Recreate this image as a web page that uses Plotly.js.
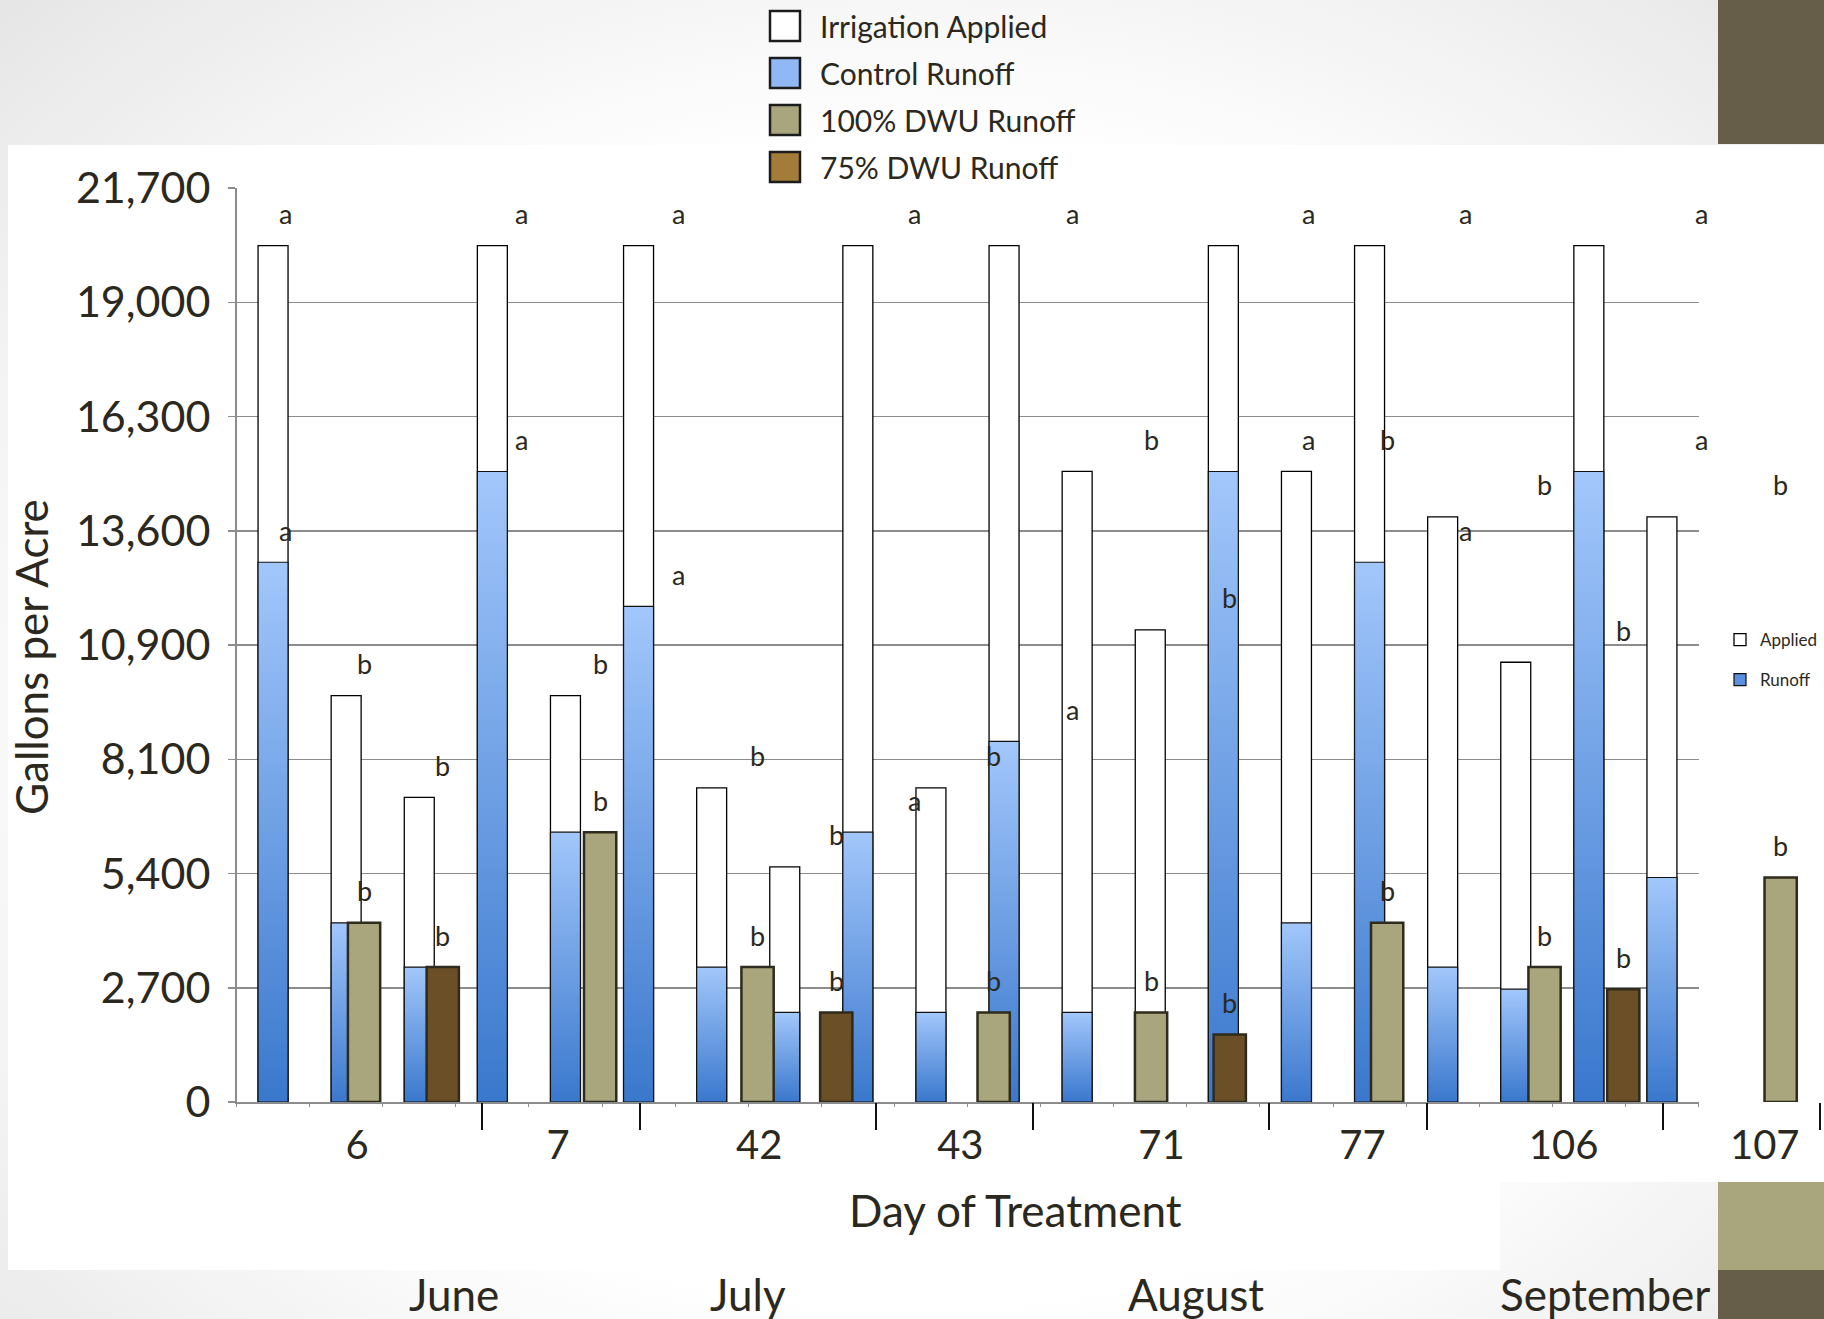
<!DOCTYPE html>
<html>
<head>
<meta charset="utf-8">
<script src="https://cdn.plot.ly/plotly-3.0.1.min.js"></script>
<style>
  html, body { margin: 0; padding: 0; background: #ffffff; }
  #slide {
    width: 1824px; height: 1319px;
    background: radial-gradient(ellipse 75% 80% at 50% 55%, #ffffff 55%, #e3e3e3 100%);
  }
</style>
</head>
<body>
<svg width="0" height="0" style="position:absolute">
  <defs>
    <linearGradient id="runoffFill" x1="0" y1="0" x2="0" y2="1">
      <stop offset="0" stop-color="#a2c7fb"/>
      <stop offset="1" stop-color="#3a78cd"/>
    </linearGradient>
  </defs>
</svg>
<div id="slide"></div>
<script>
// ---- data (gallons per acre) ----
const days = ['6', '7', '42', '43', '71', '77', '106', '107'];
const months = ['June', 'July', 'August', 'September'];

// one entry per plot (slot), in display order
const slotDay = ['6', '6', '6', '7', '7', '42', '42', '42', '43', '43',
                 '71', '71', '71', '77', '77', '106', '106', '106', '107', '107'];
const slotTreatment = ['Control', '100% DWU', '75% DWU', 'Control', '100% DWU',
                       'Control', '100% DWU', '75% DWU', 'Control', '100% DWU',
                       'Control', '100% DWU', '75% DWU', 'Control', '100% DWU',
                       'Control', '100% DWU', '75% DWU', 'Control', '100% DWU'];
const irrigationApplied = [20330, 9650, 7230, 20330, 9650, 20330, 7460, 5580, 20330, 7460,
                           20330, 14970, 11210, 20330, 14970, 20330, 13890, 10440, 20330, 13890];
const runoff = [12815, 4253, 3204, 14969, 6407, 11765, 3204, 2127, 6407, 2127,
                8562, 2127, 1602, 14969, 4253, 12815, 3204, 2679, 14969, 5330];
const appliedLetter = ['a', 'b', 'b', 'a', 'b', 'a', 'b', 'b', 'a', 'b',
                       'a', 'b', 'b', 'a', 'b', 'a', 'b', 'b', 'a', 'b'];
const runoffLetter = ['a', 'b', 'b', 'a', 'b', 'a', 'b', 'b', 'a', 'b',
                      'a', 'b', 'b', 'a', 'b', 'a', 'b', 'b', 'a', 'b'];

const yMax = 21700;
const yTickLabels = ['0', '2,700', '5,400', '8,100', '10,900', '13,600', '16,300', '19,000', '21,700'];

// ---- page geometry ----
const W = 1824, H = 1319;
const px = v => v / W;          // horizontal pixel -> paper
const py = v => 1 - v / H;      // vertical pixel (from top) -> paper
const INK = '#2b2820';
const FONT = 'Lato, "Open Sans", "DejaVu Sans", sans-serif';

const slotIdx = irrigationApplied.map((_, i) => i);
const yTickVals = yTickLabels.map((_, i) => i * yMax / (yTickLabels.length - 1));
const slotEdges = slotIdx.map(i => i - 0.5).concat([slotIdx.length - 0.5]);

// marks between day groups
const dayBreaks = [];
slotIdx.forEach(i => { if (i > 0 && slotDay[i] !== slotDay[i - 1]) dayBreaks.push(i - 0.5); });
dayBreaks.push(slotIdx.length - 0.5);

// day labels sit on an evenly banded scale of their own
const dayLabelStart = 256.5, dayBand = 201.1;
const dayIdx = days.map((_, k) => k);

const treatmentColor = { '100% DWU': '#a9a67d', '75% DWU': '#6b5027' };

const traces = [
  { type: 'bar', name: 'Applied', x: slotIdx, y: irrigationApplied, xaxis: 'x', yaxis: 'y',
    width: 0.41, marker: { color: '#ffffff', line: { color: '#000000', width: 1.3 } },
    legend: 'legend2', legendgroup: 'applied' },
  { type: 'bar', name: 'Runoff', x: slotIdx, y: runoff, xaxis: 'x', yaxis: 'y',
    width: 0.41, marker: { color: '#5b8edb', line: { color: '#111111', width: 1.2 } },
    legend: 'legend2', legendgroup: 'runoff' }
];

// runoff of the DWU-scheduled plots, coloured by treatment
['100% DWU', '75% DWU'].forEach(t => {
  const idx = slotIdx.filter(i => slotTreatment[i] === t);
  traces.push({
    type: 'bar', name: t + ' Runoff', x: idx, y: idx.map(i => runoff[i]),
    xaxis: 'x2', yaxis: 'y2', width: 0.41,
    marker: { color: treatmentColor[t], line: { color: '#2e2a1d', width: 2.5 } },
    showlegend: false
  });
});

// legend keys (no bars of their own); they live on the day-label axis
const keyItems = [
  ['Irrigation Applied', '#ffffff'],
  ['Control Runoff', '#8fb8f5'],
  ['100% DWU Runoff', '#a9a67e'],
  ['75% DWU Runoff', '#a47c3a']
];
keyItems.forEach(([name, color], k) => {
  traces.push({
    type: 'bar', name: name, x: [0], y: [null], xaxis: 'x3', yaxis: 'y2',
    marker: { color: color, line: { color: '#1c1c1c', width: 2.5 } },
    legend: 'legend', legendgroup: 'key' + k
  });
});
const keyNames = keyItems.map(k => k[0]);

// significance letters above each bar
const annotations = [];
slotIdx.forEach(i => {
  [[irrigationApplied[i], appliedLetter[i]], [runoff[i], runoffLetter[i]]].forEach(([v, s]) => {
    annotations.push({
      xref: 'x2', yref: 'y2', x: i, y: v, text: s, showarrow: false,
      xanchor: 'center', yanchor: 'middle', yshift: 32,
      font: { family: FONT, size: 27, color: INK }
    });
  });
});

annotations.push({
  xref: 'paper', yref: 'paper', x: px(1016), y: py(1210), text: 'Day of Treatment',
  showarrow: false, xanchor: 'center', yanchor: 'middle',
  font: { family: FONT, size: 44, color: INK }
});
annotations.push({
  xref: 'paper', yref: 'paper', x: px(31), y: py(657), text: 'Gallons per Acre',
  showarrow: false, xanchor: 'center', yanchor: 'middle', textangle: -90,
  font: { family: FONT, size: 44, color: INK }
});
const monthLabelX = [454, 748, 1196, 1605];
months.forEach((m, k) => {
  annotations.push({
    xref: 'paper', yref: 'paper', x: px(monthLabelX[k]), y: py(1294), text: m,
    showarrow: false, xanchor: 'center', yanchor: 'middle',
    font: { family: FONT, size: 44, color: INK }
  });
});

const plotTop = 188, plotBottom = 1102;
const yDomain = [py(plotBottom), py(plotTop)];
const gridGray = '#8c8c8c';

const layout = {
  width: W, height: H,
  margin: { l: 0, r: 0, t: 0, b: 0 },
  paper_bgcolor: 'rgba(0,0,0,0)',
  plot_bgcolor: 'rgba(0,0,0,0)',
  barmode: 'overlay',
  font: { family: FONT, color: INK },
  xaxis: {
    domain: [px(236.5), px(1698.5)], range: [-0.5, slotIdx.length - 0.5], anchor: 'y',
    tickmode: 'array', tickvals: slotEdges, ticks: 'outside', ticklen: 3, tickwidth: 1,
    tickcolor: gridGray, showticklabels: false,
    showline: true, linecolor: gridGray, linewidth: 1.5, showgrid: false, zeroline: false
  },
  yaxis: {
    domain: yDomain, range: [0, yMax], anchor: 'x',
    tickmode: 'array', tickvals: yTickVals, ticktext: yTickLabels,
    ticks: 'outside', ticklen: 7, tickcolor: gridGray, tickwidth: 1.5,
    ticklabelstandoff: 9,
    tickfont: { family: FONT, size: 43, color: INK },
    showline: true, linecolor: gridGray, linewidth: 1.5,
    showgrid: true, gridcolor: gridGray, gridwidth: 1.5, zeroline: false
  },
  xaxis2: {
    domain: [px(246), px(1820)], range: [-0.5, slotIdx.length - 0.5], anchor: 'y2',
    tickmode: 'array', tickvals: dayBreaks, ticks: 'outside', ticklen: 27,
    tickwidth: 2, tickcolor: '#111111', showticklabels: false,
    showline: false, showgrid: false, zeroline: false
  },
  xaxis3: {
    domain: [px(dayLabelStart), 1], anchor: 'y2',
    range: [-0.5, -0.5 + (W - dayLabelStart) / dayBand],
    tickmode: 'array', tickvals: dayIdx, ticktext: days, ticks: '',
    ticklabelstandoff: 16,
    tickfont: { family: FONT, size: 40, color: INK },
    showline: false, showgrid: false, zeroline: false
  },
  yaxis2: { domain: yDomain, range: [0, yMax], anchor: 'x2', visible: false },
  legend: {
    x: px(750), xanchor: 'left', y: 1, yanchor: 'top',
    bgcolor: 'rgba(0,0,0,0)', borderwidth: 0,
    font: { family: FONT, size: 30, color: INK },
    itemwidth: 60, traceorder: 'grouped', tracegroupgap: 5
  },
  legend2: {
    x: px(1720), xanchor: 'left', y: py(622), yanchor: 'top',
    bgcolor: 'rgba(0,0,0,0)', borderwidth: 0,
    font: { family: FONT, size: 17, color: INK },
    itemwidth: 30, traceorder: 'grouped', tracegroupgap: 15
  },
  shapes: [
    { type: 'rect', xref: 'paper', yref: 'paper', x0: px(8), x1: 1, y0: py(1182), y1: py(145),
      fillcolor: '#ffffff', line: { width: 0 }, layer: 'below' },
    { type: 'rect', xref: 'paper', yref: 'paper', x0: px(8), x1: px(1500), y0: py(1270), y1: py(1182),
      fillcolor: '#ffffff', line: { width: 0 }, layer: 'below' },
    { type: 'rect', xref: 'paper', yref: 'paper', x0: px(1718), x1: 1, y0: py(144), y1: 1,
      fillcolor: '#665e48', line: { width: 0 }, layer: 'below' },
    { type: 'rect', xref: 'paper', yref: 'paper', x0: px(1718), x1: 1, y0: py(1270), y1: py(1182),
      fillcolor: '#a9a57d', line: { width: 0 }, layer: 'below' },
    { type: 'rect', xref: 'paper', yref: 'paper', x0: px(1718), x1: 1, y0: 0, y1: py(1270),
      fillcolor: '#665e48', line: { width: 0 }, layer: 'below' }
  ],
  annotations: annotations
};

const gd = document.getElementById('slide');

// shaded runoff fill and legend swatch sizing, applied once the plot is drawn
function decorate() {
  gd.querySelectorAll('.barlayer .trace').forEach(g => {
    const d = g.__data__;
    const cd0 = d && (Array.isArray(d[0]) ? d[0][0] : d[0]);
    if (cd0 && cd0.trace && cd0.trace.name === 'Runoff') {
      g.querySelectorAll('path').forEach(p => { p.style.fill = 'url(#runoffFill)'; });
    }
  });
  gd.querySelectorAll('g.traces').forEach(g => {
    const label = g.querySelector('text.legendtext');
    if (!label) return;
    const name = label.textContent.trim();
    const swatches = g.querySelectorAll('g.legendpoints path');
    if (keyNames.indexOf(name) >= 0) {
      swatches.forEach(p => p.setAttribute('d', 'M15,15H-15V-15H15Z'));
    } else {
      // small key: text sits close to its swatch
      label.setAttribute('transform', 'translate(-9,0)');
      if (name === 'Runoff') swatches.forEach(p => { p.style.fill = 'url(#runoffFill)'; });
    }
  });
}

Plotly.newPlot(gd, traces, layout, { staticPlot: true, displayModeBar: false }).then(() => {
  decorate();
  gd.on('plotly_afterplot', decorate);
  setTimeout(decorate, 300);
});
</script>
</body>
</html>
